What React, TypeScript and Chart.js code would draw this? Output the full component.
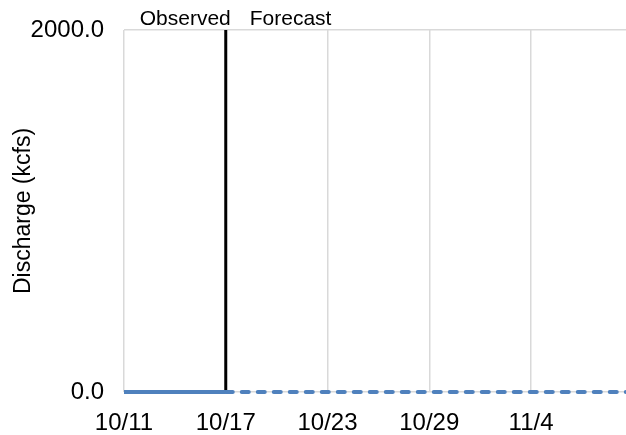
import React, { useEffect, useRef } from "react";
import { Chart, registerables } from "chart.js";

Chart.register(...registerables);

// Day offsets from 10/11
const observedDays = [0, 1, 2, 3, 4, 5, 6];
const observedValues = [0, 0, 0, 0, 0, 0, 0];
const forecastDays = [6, 7, 8, 9, 10, 11, 12, 13, 14, 15, 16, 17, 18, 19, 20, 21, 22, 23, 24, 25, 26, 27, 28, 29, 30];
const forecastValues = [0, 0, 0, 0, 0, 0, 0, 0, 0, 0, 0, 0, 0, 0, 0, 0, 0, 0, 0, 0, 0, 0, 0, 0, 0];
const tickDays = [0, 6, 12, 18, 24];
const tickLabels = ["10/11", "10/17", "10/23", "10/29", "11/4"];
const yTicks = [0, 2000];
const dividerDay = 6;
const dividerValues = [0, 2000];
const xMax = 29.6;

const FONT = '"Liberation Sans", Arial, Helvetica, sans-serif';

export default function App() {
  const ref = useRef<HTMLCanvasElement>(null);

  useEffect(() => {
    document.body.style.margin = "0";
    const canvas = ref.current;
    if (!canvas) return;

    const annot = {
      id: "annot",
      afterDraw(chart: any) {
        const ctx = chart.ctx;
        const x = chart.scales.x.getPixelForValue(dividerDay);
        ctx.save();
        ctx.font = `21px ${FONT}`;
        ctx.fillStyle = "#000";
        ctx.textBaseline = "alphabetic";
        ctx.textAlign = "right";
        ctx.fillText("Observed", x + 5, 25);
        ctx.textAlign = "left";
        ctx.fillText("Forecast", x + 24, 25);
        ctx.restore();
      },
    };

    const chart = new Chart(canvas, {
      type: "line",
      data: {
        datasets: [
          {
            label: "Observed",
            data: observedDays.map((d, i) => ({ x: d, y: observedValues[i] })),
            borderColor: "#4F81BD",
            borderWidth: 4,
            pointRadius: 0,
            tension: 0,
            clip: false,
          },
          {
            label: "Forecast",
            data: forecastDays.map((d, i) => ({ x: d, y: forecastValues[i] })),
            borderColor: "#4F81BD",
            borderWidth: 4,
            borderDash: [7, 9],
            borderCapStyle: "round",
            pointRadius: 0,
            tension: 0,
            clip: false,
          },
          {
            label: "Divider",
            data: dividerValues.map((v) => ({ x: dividerDay, y: v })),
            borderColor: "#000",
            borderWidth: 3,
            pointRadius: 0,
            clip: false,
          },
        ],
      },
      options: {
        animation: false,
        responsive: false,
        events: [],
        layout: { padding: { top: 30, right: 0, left: 0, bottom: 0 } },
        plugins: { legend: { display: false }, tooltip: { enabled: false } },
        scales: {
          x: {
            type: "linear",
            min: 0,
            max: xMax,
            afterBuildTicks: (s: any) => {
              s.ticks = tickDays.map((v) => ({ value: v }));
            },
            afterFit: (s: any) => {
              s.height = 43;
            },
            ticks: {
              autoSkip: false,
              maxRotation: 0,
              padding: 17,
              color: "#000",
              font: { family: FONT, size: 24 },
              callback: (v: any) => {
                const i = tickDays.indexOf(Number(v));
                return i >= 0 ? tickLabels[i] : "";
              },
            },
            grid: { color: "#d9d9d9", lineWidth: 1.5, drawTicks: false },
            border: { display: false },
          },
          y: {
            type: "linear",
            min: 0,
            max: 2000,
            afterBuildTicks: (s: any) => {
              s.ticks = yTicks.map((v) => ({ value: v }));
            },
            afterFit: (s: any) => {
              s.width = 124;
              s.paddingTop = 0;
              s.paddingBottom = 0;
            },
            ticks: {
              padding: 20,
              color: "#000",
              font: { family: FONT, size: 24 },
              callback: (v: any) => Number(v).toFixed(1),
            },
            grid: { color: "#d9d9d9", lineWidth: 1.5, drawTicks: false },
            border: { display: false },
            title: {
              display: true,
              text: "Discharge (kcfs)",
              color: "#000",
              font: { family: FONT, size: 23 },
              padding: { top: 10, bottom: 0 },
            },
          },
        },
      },
      plugins: [annot],
    } as any);

    return () => chart.destroy();
  }, []);

  return (
    <div style={{ width: 626, height: 435 }}>
      <canvas ref={ref} width={626} height={435} />
    </div>
  );
}
